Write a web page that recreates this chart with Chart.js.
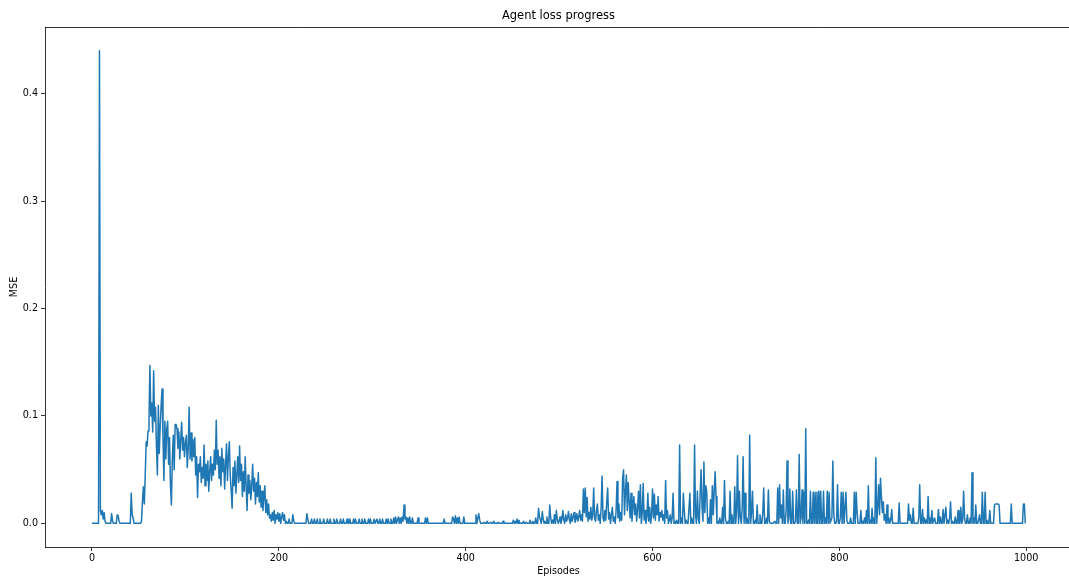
<!DOCTYPE html>
<html>
<head>
<meta charset="utf-8">
<title>Agent loss progress</title>
<script src="https://cdn.jsdelivr.net/npm/chart.js@4/dist/chart.umd.min.js"></script>
<style>
  html, body { margin: 0; padding: 0; background: #ffffff; overflow: hidden; }
  #wrap { width: 1069px; height: 578px; overflow: hidden; }
  canvas { display: block; }
</style>
</head>
<body>
<div id="wrap"><canvas id="chart" width="1075" height="578"></canvas></div>
<script>
// Per-episode MSE loss, in thousandths, one array per hundred episodes.
const loss000 = [
  0,0,0,0,0,0,0,0,440,12,
  8,12,4,10,2,0,0,0,0,0,
  0,9,2,0,0,0,0,8,7,2,
  0,0,0,0,0,0,0,0,0,0,
  0,0,28,8,5,0,0,0,0,0,
  0,0,0,2,20,34,18,45,76,72,
  86,95,147,100,112,85,142,95,108,72,
  45,110,65,90,110,125,80,40,95,60,
  88,95,55,80,35,17,60,82,50,92,
  92,88,70,85,60,78,94,68,80,62
];
const loss100 = [
  75,82,52,70,108,60,84,58,78,62,
  80,45,62,24,55,48,62,38,52,42,
  73,35,55,40,58,30,48,62,40,55,
  45,68,50,96,55,68,42,62,35,70,
  48,60,32,55,74,40,62,76,45,30,
  14,52,35,58,28,45,62,38,72,40,
  55,25,48,30,62,35,12,45,28,40,
  22,35,55,30,42,18,38,25,47,20,
  35,15,30,12,25,35,10,22,8,18,
  5,8,2,10,3,12,0,8,4,10
];
const loss200 = [
  2,9,0,6,10,3,8,0,2,0,
  0,4,0,0,0,8,2,0,0,0,
  0,0,0,0,0,0,0,0,0,0,
  9,4,0,0,0,4,0,0,4,0,
  0,4,0,0,4,0,0,0,4,0,
  0,0,4,0,0,4,0,0,0,4,
  0,0,4,0,0,0,4,0,0,4,
  0,0,0,4,0,0,4,0,0,0,
  4,0,4,0,0,0,4,0,0,4,
  0,0,4,0,0,0,4,0,4,0
];
const loss300 = [
  0,0,4,0,0,4,0,0,4,0,
  0,4,0,0,0,4,0,4,0,0,
  4,0,0,5,0,6,0,3,6,0,
  5,0,6,2,17,4,6,0,5,0,
  6,0,0,5,0,0,0,0,0,5,
  0,0,0,0,0,0,0,5,0,5,
  0,0,0,0,0,0,0,0,0,0,
  0,0,0,0,0,0,0,4,0,0,
  0,0,0,0,0,0,6,4,0,7,
  0,5,0,6,0,0,0,0,6,0
];
const loss400 = [
  0,0,0,0,0,0,0,0,0,0,
  0,8,0,5,9,3,0,0,0,0,
  1,0,0,2,0,0,0,1,0,0,
  2,0,0,0,0,1,0,0,0,0,
  2,0,0,0,0,0,0,0,0,0,
  0,3,0,2,0,4,0,3,0,0,
  0,0,2,0,0,1,0,0,0,3,
  0,0,2,0,0,5,0,0,14,6,
  3,0,11,4,0,2,0,6,0,0,
  17,5,0,3,0,8,0,12,4,0
];
const loss500 = [
  2,6,0,4,12,3,0,8,2,5,
  11,3,0,9,2,6,10,1,4,9,
  2,6,12,3,8,2,32,10,33,6,
  24,2,10,4,15,3,8,33,5,2,
  12,18,3,8,0,15,44,5,2,12,
  3,20,33,4,10,0,8,15,2,6,
  0,12,39,5,18,2,10,3,42,50,
  8,30,45,12,38,20,5,28,2,15,
  25,8,18,2,14,30,5,36,0,10,
  37,3,12,0,6,28,2,15,0,8
];
const loss600 = [
  32,5,27,3,17,8,25,2,10,6,
  12,3,8,0,40,5,12,0,3,8,
  0,5,28,0,2,0,3,0,0,73,
  0,5,0,28,12,0,3,0,0,0,
  28,0,5,0,0,73,8,0,30,5,
  0,28,50,15,2,57,10,35,30,0,
  5,0,22,0,35,8,30,48,25,0,
  2,0,5,0,0,15,0,40,5,0,
  0,2,0,30,0,8,0,0,34,0,
  12,63,0,30,5,0,15,62,0,28
];
const loss700 = [
  0,5,0,0,82,0,10,30,0,0,
  3,0,17,0,0,8,0,0,10,33,
  0,0,5,0,31,2,0,0,0,0,
  0,2,0,0,33,0,36,5,17,0,
  31,0,0,12,58,0,5,32,0,0,
  30,0,0,2,31,0,0,64,0,5,
  31,0,29,0,88,0,0,3,0,30,
  0,0,29,0,29,0,29,0,30,0,
  30,0,0,30,0,5,0,30,0,29,
  0,0,5,58,10,0,0,2,36,0
];
const loss800 = [
  0,5,29,0,29,0,0,29,3,0,
  0,0,5,0,0,0,29,0,29,10,
  0,0,0,12,0,2,0,5,0,12,
  0,35,0,3,0,14,0,5,0,61,
  0,15,36,8,42,25,10,20,3,8,
  0,17,0,5,0,3,13,0,0,0,
  0,0,0,0,19,0,0,0,0,0,
  0,0,0,0,18,3,8,0,0,14,
  0,0,0,0,0,5,36,0,0,13,
  0,5,0,3,0,25,0,5,0,12
];
const loss900 = [
  0,3,5,0,0,0,13,0,6,0,
  0,13,0,0,15,0,3,0,5,20,
  0,2,0,0,6,0,0,12,0,0,
  15,0,3,30,5,0,0,8,0,0,
  5,0,47,0,5,0,17,0,0,3,
  8,0,0,29,0,0,29,0,3,0,
  0,12,0,0,0,0,17,18,18,18,
  18,17,0,0,0,0,0,0,0,0,
  0,0,0,0,18,0,0,0,0,0,
  0,0,0,0,0,0,0,18,18,0
];

// Axis tick positions and labels
const episodeTicks = [0, 200, 400, 600, 800, 1000];
const mseTicks = [0.0, 0.1, 0.2, 0.3, 0.4];

const lossMilli = [].concat(loss000, loss100, loss200, loss300, loss400,
                            loss500, loss600, loss700, loss800, loss900);
const lossPoints = lossMilli.map((v, i) => ({ x: i, y: v / 1000 }));

const FONT = "'DejaVu Sans', 'Liberation Sans', sans-serif";
const INK = '#000000';
const LABEL_SIZE = 9.6;
const TITLE_SIZE = 11.5;

function fixedTicks(values) {
  return function (scale) { scale.ticks = values.map(v => ({ value: v })); };
}

new Chart(document.getElementById('chart'), {
  type: 'line',
  data: {
    datasets: [{
      label: 'MSE',
      data: lossPoints,
      borderColor: '#1f77b4',
      backgroundColor: '#1f77b4',
      borderWidth: 1.5,
      pointRadius: 0,
      pointHoverRadius: 0,
      tension: 0,
      fill: false,
      borderJoinStyle: 'round',
      borderCapStyle: 'butt'
    }]
  },
  options: {
    responsive: false,
    animation: false,
    parsing: false,
    events: [],
    layout: { padding: { left: 0, right: 3, top: 0, bottom: 0 } },
    plugins: {
      legend: { display: false },
      tooltip: { enabled: false },
      title: { display: false }
    },
    scales: {
      x: {
        type: 'linear',
        position: 'bottom',
        min: -50.3,
        max: 1049,
        afterBuildTicks: fixedTicks(episodeTicks),
        afterFit: s => { s.height = 31; },
        grid: { display: true, drawOnChartArea: false, drawTicks: true, tickLength: 4, color: INK, lineWidth: 0.8 },
        border: { display: true, color: INK, width: 0.8 },
        ticks: {
          padding: 1.5,
          color: INK,
          font: { family: FONT, size: LABEL_SIZE },
          maxRotation: 0,
          autoSkip: false,
          callback: v => String(Math.round(v))
        },
        title: {
          display: true,
          text: 'Episodes',
          color: INK,
          font: { family: FONT, size: LABEL_SIZE },
          padding: { top: 0, bottom: 1.2 }
        }
      },
      xTop: {
        type: 'linear',
        position: 'top',
        min: 0,
        max: 1,
        afterFit: s => { s.height = 27; },
        grid: { display: false },
        border: { display: true, color: INK, width: 0.8 },
        ticks: { display: false },
        title: {
          display: true,
          text: 'Agent loss progress',
          color: INK,
          font: { family: FONT, size: TITLE_SIZE },
          padding: { top: 9.2, bottom: 0 }
        }
      },
      y: {
        type: 'linear',
        position: 'left',
        min: -0.022,
        max: 0.462,
        afterBuildTicks: fixedTicks(mseTicks),
        afterFit: s => { s.width = 45; },
        grid: { display: true, drawOnChartArea: false, drawTicks: true, tickLength: 4, color: INK, lineWidth: 0.8 },
        border: { display: true, color: INK, width: 0.8 },
        ticks: {
          padding: 3,
          color: INK,
          font: { family: FONT, size: LABEL_SIZE },
          autoSkip: false,
          callback: v => Number(v).toFixed(1)
        },
        title: {
          display: true,
          text: 'MSE',
          color: INK,
          font: { family: FONT, size: LABEL_SIZE },
          padding: { top: 8.6, bottom: 0 }
        }
      }
    }
  }
});
</script>
</body>
</html>
